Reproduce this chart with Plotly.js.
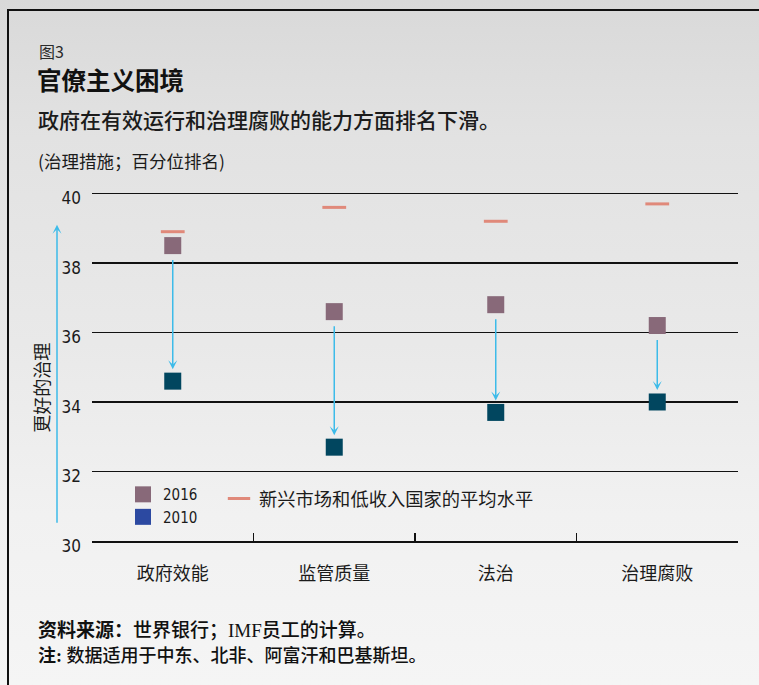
<!DOCTYPE html>
<html><head><meta charset="utf-8">
<script src="https://cdn.plot.ly/plotly-3.0.1.min.js"></script>
<style>
html,body{margin:0;padding:0;width:759px;height:685px;overflow:hidden;
background:linear-gradient(to bottom,#d9d9d9 0%,#e2e2e2 20%,#e9e9e9 50%,#f1f1f1 75%,#f5f5f5 100%);}
#frame{position:absolute;left:7px;top:9px;width:760px;height:690px;border-top:2px solid #111;border-left:2px solid #111;}
#chart{position:absolute;left:0;top:0;width:759px;height:685px;}
#chart text{font-stretch:condensed;}
</style></head><body><div id="frame"></div><div id="chart"></div>
<script>
const categories = ['政府效能', '监管质量', '法治', '治理腐败'];
const values2016 = [38.5, 36.6, 36.8, 36.2];
const values2010 = [34.6, 32.7, 33.7, 34.0];
const averageEMLI = [38.9, 39.6, 39.2, 39.7];
const yTickVals = [30, 32, 34, 36, 38, 40];
const seriesNames = ['2016', '2010', '新兴市场和低收入国家的平均水平'];

const CJK = 'Noto Sans CJK SC';
const NUM = "'DejaVu Sans Condensed', 'Liberation Sans Narrow', 'DejaVu Sans', 'Noto Sans CJK SC'";
const txt = '#1b1b1b';
const arrowBlue = '#3dbbe9';

const traces = [
  {type:'scatter', mode:'markers', x:categories, y:averageEMLI, name:seriesNames[2],
   legend:'legend2', hoverinfo:'skip',
   marker:{symbol:'line-ew', size:17, color:'#e0897a', line:{color:'#e0897a', width:3}}},
  {type:'scatter', mode:'markers', x:categories, y:values2016, name:seriesNames[0],
   legend:'legend', hoverinfo:'skip',
   marker:{symbol:'square', size:17, color:'#886979', line:{width:0}}},
  {type:'scatter', mode:'markers', x:categories, y:values2010, name:seriesNames[1],
   showlegend:false, hoverinfo:'skip',
   marker:{symbol:'square', size:17, color:'#01465f', line:{width:0}}},
  {type:'scatter', mode:'markers', x:[null], y:[null], name:seriesNames[1],
   legend:'legend', hoverinfo:'skip',
   marker:{symbol:'square', size:17, color:'#2c49a1', line:{width:0}}}
];

const arrows = categories.map((c, i) => ({
  x:c, y:values2010[i], ax:c, ay:values2016[i], xref:'x', yref:'y', axref:'x', ayref:'y',
  showarrow:true, arrowhead:3, arrowsize:1, arrowwidth:1.5, arrowcolor:arrowBlue,
  standoff:12, startstandoff:13, text:''
}));

// plot area: y=30 at 541px, y=40 at 193px; top extended slightly so the 40 gridline is drawn
const TOP = 189.5, BOT = 541;
const px = v => (v - 92) / 646;
const py = v => (BOT - v) / (BOT - TOP);

const texts = [
  {text:'图3', x:px(37), y:py(50), font:{family:CJK, size:16, color:'#2a2a2a'}},
  {text:'政府在有效运行和治理腐败的能力方面排名下滑。', x:px(36), y:py(118), font:{family:CJK, size:21, color:txt, weight:500}},
  {text:'(治理措施；百分位排名)', x:px(36), y:py(160), font:{family:CJK, size:17.5, color:txt}},
  {text:'<b>资料来源：</b>世界银行；IMF员工的计算。', x:px(36), y:py(631), font:{family:'Liberation Serif, '+CJK, size:19, color:'#111', weight:500}},
  {text:'<b>注: </b>数据适用于中东、北非、阿富汗和巴基斯坦。', x:px(36), y:py(656), font:{family:'Liberation Serif, '+CJK, size:18, color:'#111', weight:500}},
  {text:'更好的治理', x:px(41.5), y:py(388), textangle:-90, xanchor:'center', font:{family:CJK, size:18, color:txt}}
].map(a => Object.assign({xref:'paper', yref:'paper', xanchor:'left', yanchor:'middle', showarrow:false}, a));

const leftArrow = {x:px(57), y:39.1, xref:'paper', yref:'y', ax:0, ay:30.48, axref:'pixel', ayref:'y',
  showarrow:true, arrowhead:3, arrowsize:1, arrowwidth:1.5, arrowcolor:arrowBlue, text:''};

const layout = {
  width:759, height:685,
  margin:{l:92, r:21, t:TOP, b:685 - BOT},
  paper_bgcolor:'rgba(0,0,0,0)', plot_bgcolor:'rgba(0,0,0,0)',
  title:{text:'<b>官僚主义困境</b>', x:37/759, xanchor:'left', xref:'container',
         y:1 - 81/685, yref:'container', yanchor:'middle',
         font:{family:CJK, size:24.5, color:'#111'}},
  xaxis:{type:'category', range:[-0.5, 3.5], tickson:'boundaries', ticks:'inside', ticklen:8,
         tickwidth:1.5, tickcolor:'#111', showline:true, linecolor:'#111', linewidth:2,
         showgrid:false, zeroline:false, ticklabelstandoff:15,
         tickfont:{family:CJK, size:18, color:txt}},
  yaxis:{range:[30, 40.1], tickvals:yTickVals, showgrid:true, gridcolor:'#111', gridwidth:1.5,
         zeroline:false, showline:false, ticks:'', ticklabelstandoff:10, ticklabelshift:5,
         tickfont:{family:NUM, size:17, color:txt}},
  showlegend:true,
  legend:{x:px(123), y:py(478), xanchor:'left', yanchor:'top', bgcolor:'rgba(0,0,0,0)',
          font:{family:NUM, size:15, color:txt}, tracegroupgap:0, itemclick:false, itemdoubleclick:false},
  legend2:{x:px(219), y:py(480), xanchor:'left', yanchor:'top', bgcolor:'rgba(0,0,0,0)',
          font:{family:CJK, size:18.3, color:txt}, itemclick:false, itemdoubleclick:false},
  annotations:[...arrows, leftArrow, ...texts]
};

Plotly.newPlot('chart', traces, layout, {displayModeBar:false, staticPlot:true});
</script></body></html>
